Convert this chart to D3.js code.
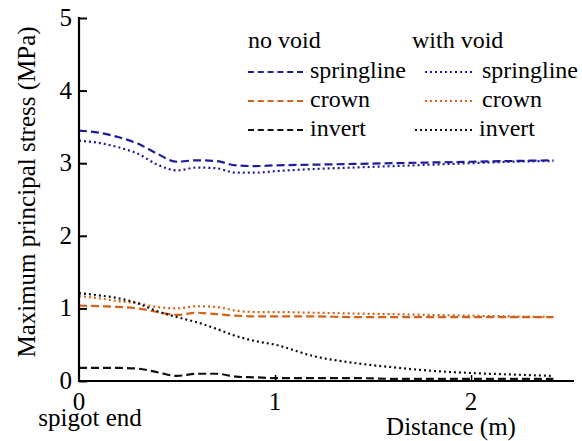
<!DOCTYPE html>
<html><head><meta charset="utf-8">
<script src="https://cdn.jsdelivr.net/npm/d3@7"></script>
<style>body{margin:0;background:#fff}svg{display:block}</style>
</head><body><svg id="c" width="582" height="441"></svg>
<script>
const distance = [0, 0.1, 0.2, 0.3, 0.4, 0.5, 0.6, 0.7, 0.8, 0.9, 1.0, 1.2, 1.4, 1.6, 1.8, 2.0, 2.2, 2.42];
const springNoVoid   = [3.45, 3.42, 3.36, 3.27, 3.13, 3.02, 3.04, 3.03, 2.97, 2.96, 2.97, 2.98, 2.99, 3.00, 3.01, 3.02, 3.03, 3.04];
const springWithVoid = [3.31, 3.28, 3.22, 3.13, 2.98, 2.90, 2.94, 2.93, 2.87, 2.87, 2.89, 2.92, 2.94, 2.96, 2.98, 3.00, 3.02, 3.03];
const crownNoVoid    = [1.04, 1.03, 1.02, 1.00, 0.95, 0.91, 0.94, 0.92, 0.90, 0.89, 0.89, 0.89, 0.88, 0.88, 0.88, 0.88, 0.88, 0.88];
const crownWithVoid  = [1.17, 1.14, 1.10, 1.07, 1.02, 1.00, 1.03, 1.02, 0.97, 0.95, 0.95, 0.94, 0.93, 0.92, 0.91, 0.90, 0.89, 0.88];
const invertNoVoid   = [0.18, 0.18, 0.18, 0.17, 0.12, 0.07, 0.10, 0.10, 0.06, 0.05, 0.04, 0.04, 0.04, 0.03, 0.03, 0.03, 0.03, 0.03];
const invertWithVoid = [1.21, 1.18, 1.14, 1.07, 0.96, 0.88, 0.81, 0.72, 0.62, 0.55, 0.50, 0.34, 0.25, 0.19, 0.14, 0.11, 0.09, 0.07];
const yTicks = [0, 1, 2, 3, 4, 5];
const xTicks = [0, 1, 2];

const series = [
  {name:"springline", group:"no void", values:springNoVoid, color:"#1c1c9c", dash:"8,4"},
  {name:"springline", group:"with void", values:springWithVoid, color:"#1c1c9c", dash:"2,3"},
  {name:"crown", group:"no void", values:crownNoVoid, color:"#d4621a", dash:"8,4"},
  {name:"crown", group:"with void", values:crownWithVoid, color:"#d4621a", dash:"2,3"},
  {name:"invert", group:"no void", values:invertNoVoid, color:"#111", dash:"8,4"},
  {name:"invert", group:"with void", values:invertWithVoid, color:"#111", dash:"2,3"}
];

const svg = d3.select("#c");
const x = d3.scaleLinear().domain([0, 2.52]).range([79, 573]);
const y = d3.scaleLinear().domain([0, 5]).range([381, 18]);

const line = d3.line().x((d,i)=>x(distance[i])).y(d=>y(d)).curve(d3.curveMonotoneX);
series.forEach(s=>{
  svg.append("path").attr("d", line(s.values)).attr("fill","none")
    .attr("stroke", s.color).attr("stroke-width", 2.2).attr("stroke-dasharray", s.dash);
});

const yAxis = d3.axisRight(y).tickValues(yTicks).tickSize(8).tickFormat("");
const gy = svg.append("g").attr("transform","translate(79,0)").call(yAxis);
gy.select(".domain").remove();
gy.selectAll("line").attr("stroke","#000").attr("stroke-width",2);
const xAxis = d3.axisTop(x).tickValues(xTicks.filter(v=>v>0)).tickSize(6).tickFormat("");
const gx = svg.append("g").attr("transform","translate(0,381)").call(xAxis);
gx.select(".domain").remove();
gx.selectAll("line").attr("stroke","#000").attr("stroke-width",1.5);
svg.append("line").attr("x1",79).attr("x2",79).attr("y1",y(5)-1).attr("y2",y(0)+1).attr("stroke","#000").attr("stroke-width",2.2);
svg.append("line").attr("x1",78).attr("x2",574).attr("y1",y(0)).attr("y2",y(0)).attr("stroke","#000").attr("stroke-width",2.2);

const fs = 25, lfs = 24;
svg.selectAll(".yl").data(yTicks).enter().append("text")
  .attr("x",72).attr("y",d=>y(d)+8).attr("text-anchor","end").attr("font-size",fs).text(d=>d);
svg.selectAll(".xl").data(xTicks).enter().append("text")
  .attr("x",d=>x(d)).attr("y",410).attr("text-anchor","middle").attr("font-size",fs).text(d=>d);

svg.append("text").attr("x",90).attr("y",426).attr("text-anchor","middle").attr("font-size",fs).text("spigot end");
svg.append("text").attr("x",451).attr("y",435).attr("text-anchor","middle").attr("font-size",fs).text("Distance (m)");
svg.append("text").attr("transform","translate(35,192) rotate(-90)").attr("text-anchor","middle").attr("font-size",fs).text("Maximum principal stress (MPa)");

svg.append("text").attr("x",248).attr("y",48).attr("font-size",lfs).text("no void");
svg.append("text").attr("x",412).attr("y",48).attr("font-size",lfs).text("with void");
const rows = ["springline","crown","invert"];
const wvStart = [425, 425, 415];
const wvText = [482, 482, 479];
rows.forEach((r,i)=>{
  const ly = 72 + i*29;
  const nv = series.find(s=>s.name===r && s.group==="no void");
  const wv = series.find(s=>s.name===r && s.group==="with void");
  svg.append("line").attr("x1",248).attr("x2",307).attr("y1",ly).attr("y2",ly)
    .attr("stroke",nv.color).attr("stroke-width",2).attr("stroke-dasharray","6,3.8");
  svg.append("text").attr("x",310).attr("y",ly+6).attr("font-size",lfs).text(r);
  svg.append("line").attr("x1",wvStart[i]).attr("x2",472).attr("y1",ly).attr("y2",ly)
    .attr("stroke",wv.color).attr("stroke-width",2).attr("stroke-dasharray","2,3");
  svg.append("text").attr("x",wvText[i]).attr("y",ly+6).attr("font-size",lfs).text(r);
});
svg.selectAll("text").style("font-family","'Liberation Serif'").style("fill","#000");
</script></body></html>
